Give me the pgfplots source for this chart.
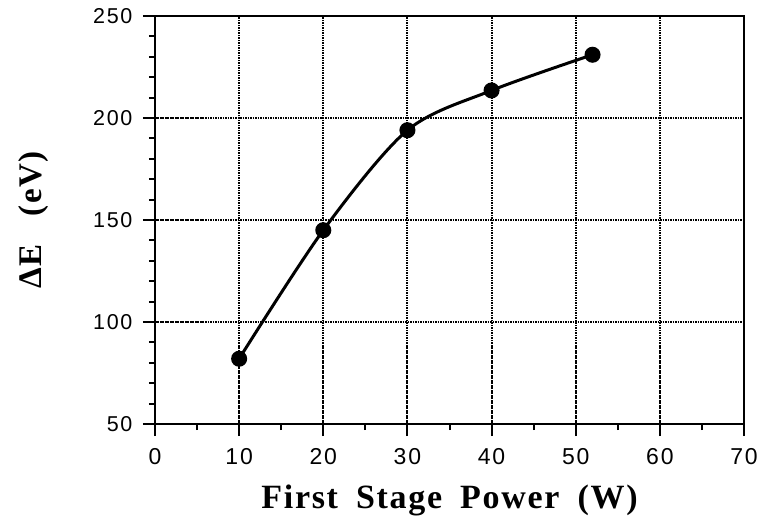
\documentclass[border=0pt]{standalone}
\usepackage{fontspec}
\setmainfont{Liberation Serif}
\newfontfamily\tickfont[LetterSpace=8]{Liberation Sans}
\newfontfamily\labfont[LetterSpace=5]{Liberation Serif}
\usepackage{pgfplots}
\pgfplotsset{compat=1.18}
\begin{document}
\begin{tikzpicture}
\begin{axis}[
  scale only axis,
  width=589pt, height=408pt,
  xmin=0, xmax=70, ymin=50, ymax=250,
  xtick={0,10,...,70}, ytick={50,100,...,250},
  minor x tick num=1, minor y tick num=4,
  tick align=outside, tick pos=left,
  major tick length=12pt, minor tick length=6pt,
  every tick/.style={black, line width=2pt},
  axis line style={line width=2.8pt},
  grid=major,
  major grid style={black, line width=2pt, dash pattern=on 1.6pt off 0.9pt},
  /pgf/number format/assume math mode=true,
  xticklabel style={font=\tickfont\fontsize{23}{23}\selectfont, yshift=-9pt},
  yticklabel style={font=\tickfont\fontsize{21.5}{21.5}\selectfont, xshift=-7pt},
  xlabel={\labfont\bfseries First\hspace{18pt}Stage\hspace{18pt}Power\hspace{18pt}(W)},
  ylabel={\labfont\bfseries ΔE\hspace{28pt}(eV)},
  xlabel style={font=\fontsize{34}{34}\selectfont, at={(axis description cs:0.5,0)}, anchor=base, yshift=-84pt},
  ylabel style={font=\fontsize{33}{33}\selectfont, at={(axis description cs:0,0.5)}, anchor=center, yshift=121pt},
]
\addplot[black, line width=3pt, smooth, tension=0.5, mark=*, mark size=6.5pt, mark options={solid}] coordinates {
(10,82) (20,145) (30,194) (40,213.5) (52,231)
};
\end{axis}
\path[use as bounding box] ([shift={(-155pt,-97pt)}]current axis.south west) rectangle ([shift={(20pt,16pt)}]current axis.north east);
\end{tikzpicture}
\end{document}
